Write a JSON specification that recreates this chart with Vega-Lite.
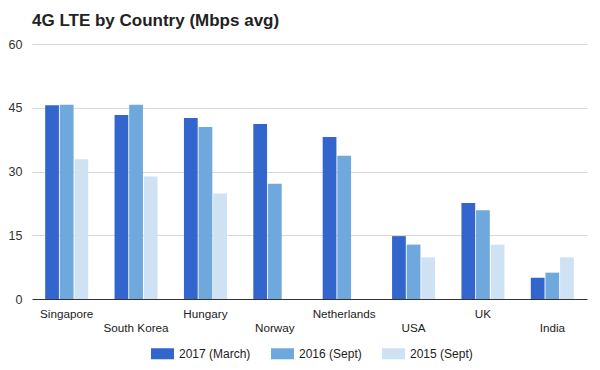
{
  "$schema": "https://vega.github.io/schema/vega-lite/v6.json",
  "width": 555,
  "height": 255,
  "autosize": {"type": "none"},
  "padding": {"left": 32, "top": 44, "right": 13, "bottom": 71},
  "background": "white",
  "title": {
    "text": "4G LTE by Country (Mbps avg)",
    "anchor": "start",
    "frame": "group",
    "font": "Liberation Sans",
    "fontSize": 17,
    "fontWeight": "bold",
    "color": "#222222",
    "offset": 8
  },
  "data": {
    "values": [
      {"country": "Singapore", "period": "2017 (March)", "mbps": 45.6},
      {"country": "Singapore", "period": "2016 (Sept)", "mbps": 45.7},
      {"country": "Singapore", "period": "2015 (Sept)", "mbps": 32.9},
      {"country": "South Korea", "period": "2017 (March)", "mbps": 43.3},
      {"country": "South Korea", "period": "2016 (Sept)", "mbps": 45.7},
      {"country": "South Korea", "period": "2015 (Sept)", "mbps": 28.8},
      {"country": "Hungary", "period": "2017 (March)", "mbps": 42.6},
      {"country": "Hungary", "period": "2016 (Sept)", "mbps": 40.5},
      {"country": "Hungary", "period": "2015 (Sept)", "mbps": 24.8},
      {"country": "Norway", "period": "2017 (March)", "mbps": 41.2},
      {"country": "Norway", "period": "2016 (Sept)", "mbps": 27.1},
      {"country": "Netherlands", "period": "2017 (March)", "mbps": 38.1},
      {"country": "Netherlands", "period": "2016 (Sept)", "mbps": 33.7},
      {"country": "USA", "period": "2017 (March)", "mbps": 14.8},
      {"country": "USA", "period": "2016 (Sept)", "mbps": 12.8},
      {"country": "USA", "period": "2015 (Sept)", "mbps": 9.8},
      {"country": "UK", "period": "2017 (March)", "mbps": 22.6},
      {"country": "UK", "period": "2016 (Sept)", "mbps": 20.9},
      {"country": "UK", "period": "2015 (Sept)", "mbps": 12.8},
      {"country": "India", "period": "2017 (March)", "mbps": 5.0},
      {"country": "India", "period": "2016 (Sept)", "mbps": 6.2},
      {"country": "India", "period": "2015 (Sept)", "mbps": 9.8}
    ]
  },
  "mark": {"type": "bar"},
  "encoding": {
    "x": {
      "field": "country",
      "type": "nominal",
      "sort": null,
      "scale": {"paddingInner": 0.38, "paddingOuter": 0.19},
      "axis": {
        "title": null,
        "labelAngle": 0,
        "ticks": false,
        "domain": true,
        "domainColor": "#333333",
        "labelFont": "Liberation Sans",
        "labelFontSize": 11.7,
        "labelColor": "#222222",
        "labelPadding": {"expr": "indexof(['South Korea', 'Norway', 'USA', 'India'], datum.value) >= 0 ? 23 : 9"},
        "labelOverlap": false
      }
    },
    "xOffset": {
      "field": "period",
      "type": "nominal",
      "sort": ["2017 (March)", "2016 (Sept)", "2015 (Sept)"],
      "scale": {"paddingInner": 0.06}
    },
    "y": {
      "field": "mbps",
      "type": "quantitative",
      "scale": {"domain": [0, 60]},
      "axis": {
        "title": null,
        "values": [0, 15, 30, 45, 60],
        "domain": false,
        "ticks": false,
        "gridColor": "#d9d9d9",
        "labelFont": "Liberation Sans",
        "labelFontSize": 12.5,
        "labelColor": "#333333",
        "labelPadding": 10
      }
    },
    "color": {
      "field": "period",
      "type": "nominal",
      "sort": ["2017 (March)", "2016 (Sept)", "2015 (Sept)"],
      "scale": {
        "domain": ["2017 (March)", "2016 (Sept)", "2015 (Sept)"],
        "range": ["#3366cc", "#6fa8dc", "#cfe2f3"]
      },
      "legend": {
        "title": null,
        "orient": "none",
        "legendX": 119,
        "legendY": 298,
        "direction": "horizontal",
        "symbolType": "M-1,-0.48H1V0.48H-1Z",
        "symbolSize": 529,
        "symbolStrokeWidth": 0,
        "labelFont": "Liberation Sans",
        "labelFontSize": 12,
        "labelColor": "#222222",
        "labelOffset": 5,
        "columnPadding": 20
      }
    }
  },
  "config": {
    "view": {"stroke": null}
  }
}
